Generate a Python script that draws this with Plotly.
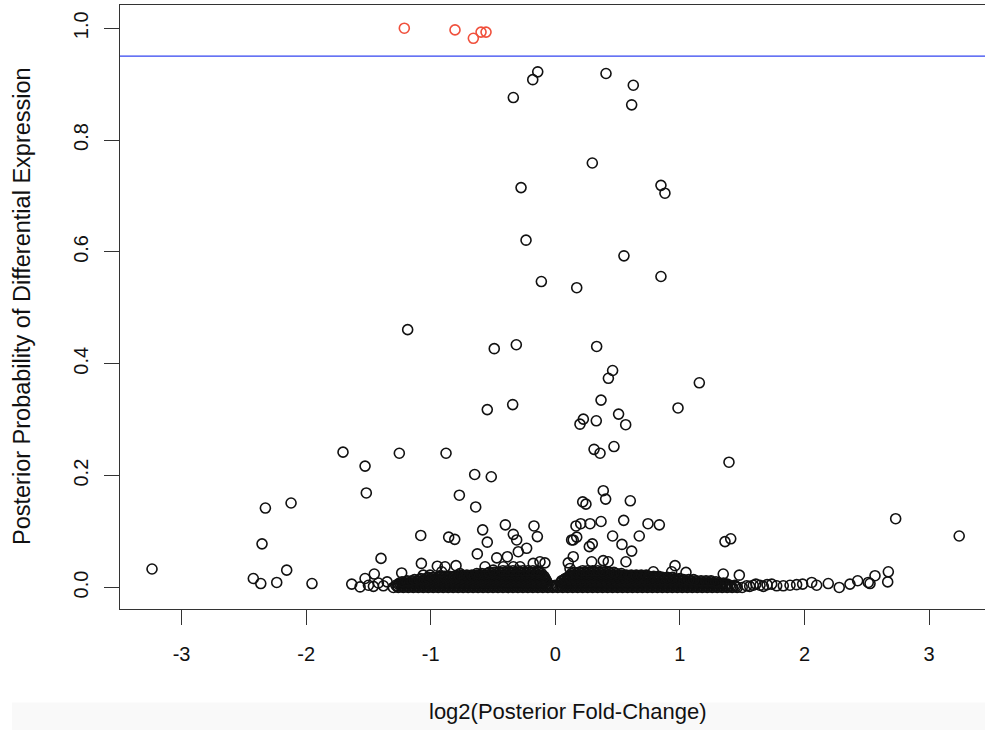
import plotly.graph_objects as go

# ---------------- data ----------------
threshold = 0.95

sig_x = [-1.212, -0.805, -0.658, -0.596, -0.556]
sig_y = [1.000, 0.997, 0.982, 0.993, 0.993]

high_x = [-0.141, -0.181, -0.337, 0.407, 0.626, 0.613, 0.297, -0.275, 0.848, 0.880,
          -0.235, 0.551, 0.848, -0.112, 0.172, -1.185, -0.490, -0.313, 0.332, 0.460,
          0.426, 1.156, 0.367, -0.546, -0.342, 0.985, 0.508, 0.225, 0.198, 0.329,
          0.565, 0.311, 0.359, 0.471, 1.394, -1.704, -1.527, -1.252, -0.877, -1.517,
          -2.327, -2.121, -2.354, -3.237, -0.647, -0.514, -0.770, -0.639, 0.385, 0.404,
          0.602, 0.220, 0.246, 2.732, 3.242]
high_y = [0.922, 0.908, 0.876, 0.919, 0.898, 0.863, 0.759, 0.715, 0.719, 0.705,
          0.621, 0.593, 0.556, 0.547, 0.536, 0.461, 0.427, 0.434, 0.431, 0.388,
          0.374, 0.366, 0.335, 0.318, 0.327, 0.321, 0.310, 0.301, 0.292, 0.298,
          0.291, 0.247, 0.240, 0.252, 0.224, 0.242, 0.217, 0.240, 0.240, 0.169,
          0.142, 0.151, 0.078, 0.033, 0.202, 0.198, 0.165, 0.144, 0.173, 0.158,
          0.155, 0.153, 0.149, 0.123, 0.092]

mid_x = [-1.080, -0.856, -0.807, -0.583, -0.546, -0.401, -0.337, -0.310, -0.171, -0.144,
         -0.297, -0.230, -0.626, -1.075, -0.947, -0.885, -0.797, -0.470, -0.385, -0.083,
         0.104, 0.144, 0.166, 0.204, 0.279, 0.367, 0.549, 0.744, 0.835, 0.460,
         0.674, 0.131, 0.172, 0.273, 0.297, 0.535, 0.613, 0.567, 1.362, 1.408,
         0.961, 0.144, 0.425, 0.385, 0.787, 1.049, 1.348, 0.118, 0.934, 0.292,
         1.477, -1.399, -1.233, -1.453, -1.527, -1.634, -1.567, -2.424, -2.364, -2.236,
         -2.156, -1.953, -0.337, -0.283, -0.177, -0.123, -0.564, -0.498, -0.417, -1.060,
         -1.006, -0.765, -0.912, -1.500, -1.460, -1.420, -1.380, -1.350]
mid_y = [0.093, 0.090, 0.086, 0.103, 0.081, 0.112, 0.095, 0.085, 0.110, 0.091,
         0.064, 0.070, 0.060, 0.043, 0.038, 0.037, 0.039, 0.053, 0.055, 0.044,
         0.044, 0.085, 0.110, 0.114, 0.114, 0.118, 0.120, 0.114, 0.112, 0.092,
         0.092, 0.085, 0.090, 0.073, 0.078, 0.077, 0.065, 0.046, 0.082, 0.087,
         0.039, 0.055, 0.046, 0.048, 0.028, 0.027, 0.024, 0.034, 0.028, 0.046,
         0.022, 0.052, 0.026, 0.024, 0.016, 0.006, 0.001, 0.016, 0.007, 0.009,
         0.031, 0.007, 0.037, 0.037, 0.043, 0.046, 0.037, 0.031, 0.037, 0.022,
         0.022, 0.025, 0.028, 0.004, 0.002, 0.008, 0.003, 0.010]

tail_x = [2.673, 2.668, 2.566, 2.526, 2.512, 2.427, 2.365, 2.279, 2.191, 2.098,
          2.058, 1.985, 1.937, 1.884, 1.830, 1.777, 1.737, 1.643, 1.589, 1.536,
          1.560, 1.610, 1.670, 1.700]
tail_y = [0.028, 0.010, 0.021, 0.007, 0.009, 0.012, 0.006, 0.000, 0.007, 0.004,
          0.009, 0.006, 0.005, 0.004, 0.003, 0.003, 0.006, 0.004, 0.004, 0.003,
          0.002, 0.006, 0.002, 0.005]

# dense band of genes with near-zero probability: one probability level per row
band_levels = [0.000, 0.002, 0.004, 0.006, 0.008, 0.010, 0.012, 0.014,
               0.016, 0.018, 0.020, 0.022, 0.025, 0.027, 0.030]
band_r00 = [-1.30, -1.26, -1.22, -1.18, -1.14, -1.10, -1.06, -1.02, -0.98, -0.94,
            -0.90, -0.86, -0.82, -0.78, -0.74, -0.70, -0.66, -0.62, -0.58, -0.54,
            -0.50, -0.46, -0.42, -0.38, -0.34, -0.30, -0.26, -0.22, -0.18, -0.14,
            -0.10, -0.06, -0.02, 0.02, 0.06, 0.10, 0.14, 0.18, 0.22, 0.26,
            0.30, 0.34, 0.38, 0.42, 0.46, 0.50, 0.54, 0.58, 0.62, 0.66,
            0.70, 0.74, 0.78, 0.82, 0.86, 0.90, 0.94, 0.98, 1.02, 1.06,
            1.10, 1.14, 1.18, 1.22, 1.26, 1.30, 1.34, 1.38, 1.42, 1.46, 1.50]
band_r01 = [-1.27, -1.23, -1.19, -1.15, -1.11, -1.07, -1.03, -0.99, -0.95, -0.91,
            -0.87, -0.83, -0.79, -0.75, -0.71, -0.67, -0.63, -0.59, -0.55, -0.51,
            -0.47, -0.43, -0.39, -0.35, -0.31, -0.27, -0.23, -0.19, -0.15, -0.11,
            -0.07, -0.03, 0.01, 0.05, 0.09, 0.13, 0.17, 0.21, 0.25, 0.29,
            0.33, 0.37, 0.41, 0.45, 0.49, 0.53, 0.57, 0.61, 0.65, 0.69,
            0.73, 0.77, 0.81, 0.85, 0.89, 0.93, 0.97, 1.01, 1.05, 1.09,
            1.13, 1.17, 1.21, 1.25, 1.29, 1.33, 1.37, 1.41, 1.45]
band_r02 = [-1.28, -1.24, -1.20, -1.16, -1.12, -1.08, -1.04, -1.00, -0.96, -0.92,
            -0.88, -0.84, -0.80, -0.76, -0.72, -0.68, -0.64, -0.60, -0.56, -0.52,
            -0.48, -0.44, -0.40, -0.36, -0.32, -0.28, -0.24, -0.20, -0.16, -0.12,
            -0.08, -0.04, 0.00, 0.04, 0.08, 0.12, 0.16, 0.20, 0.24, 0.28,
            0.32, 0.36, 0.40, 0.44, 0.48, 0.52, 0.56, 0.60, 0.64, 0.68,
            0.72, 0.76, 0.80, 0.84, 0.88, 0.92, 0.96, 1.00, 1.04, 1.08,
            1.12, 1.16, 1.20, 1.24, 1.28, 1.32, 1.36, 1.40, 1.44]
band_r03 = [-1.26, -1.22, -1.18, -1.14, -1.10, -1.06, -1.02, -0.98, -0.94, -0.90,
            -0.86, -0.82, -0.78, -0.74, -0.70, -0.66, -0.62, -0.58, -0.54, -0.50,
            -0.46, -0.42, -0.38, -0.34, -0.30, -0.26, -0.22, -0.18, -0.14, -0.10,
            -0.06, 0.06, 0.10, 0.14, 0.18, 0.22, 0.26, 0.30, 0.34, 0.38,
            0.42, 0.46, 0.50, 0.54, 0.58, 0.62, 0.66, 0.70, 0.74, 0.78,
            0.82, 0.86, 0.90, 0.94, 0.98, 1.02, 1.06, 1.10, 1.14, 1.18,
            1.22, 1.26, 1.30, 1.34, 1.38]
band_r04 = [-1.25, -1.21, -1.17, -1.13, -1.09, -1.05, -1.01, -0.97, -0.93, -0.89,
            -0.85, -0.81, -0.77, -0.73, -0.69, -0.65, -0.61, -0.57, -0.53, -0.49,
            -0.45, -0.41, -0.37, -0.33, -0.29, -0.25, -0.21, -0.17, -0.13, -0.09,
            0.07, 0.11, 0.15, 0.19, 0.23, 0.27, 0.31, 0.35, 0.39, 0.43,
            0.47, 0.51, 0.55, 0.59, 0.63, 0.67, 0.71, 0.75, 0.79, 0.83,
            0.87, 0.91, 0.95, 0.99, 1.03, 1.07, 1.11, 1.15, 1.19, 1.23,
            1.27, 1.31, 1.35]
band_r05 = [-1.23, -1.19, -1.15, -1.11, -1.07, -1.03, -0.99, -0.95, -0.91, -0.87,
            -0.83, -0.79, -0.75, -0.71, -0.67, -0.63, -0.59, -0.55, -0.51, -0.47,
            -0.43, -0.39, -0.35, -0.31, -0.27, -0.23, -0.19, -0.15, -0.11, -0.07,
            0.05, 0.09, 0.13, 0.17, 0.21, 0.25, 0.29, 0.33, 0.37, 0.41,
            0.45, 0.49, 0.53, 0.57, 0.61, 0.65, 0.69, 0.73, 0.77, 0.81,
            0.85, 0.89, 0.93, 0.97, 1.01, 1.05, 1.09, 1.13, 1.17, 1.21,
            1.25, 1.29]
band_r06 = [-1.19, -1.15, -1.11, -1.07, -1.03, -0.99, -0.95, -0.91, -0.87, -0.83,
            -0.79, -0.75, -0.71, -0.67, -0.63, -0.59, -0.55, -0.51, -0.47, -0.43,
            -0.39, -0.35, -0.31, -0.27, -0.23, -0.19, -0.15, -0.11, -0.07,
            0.05, 0.09, 0.13, 0.17, 0.21, 0.25, 0.29, 0.33, 0.37, 0.41,
            0.45, 0.49, 0.53, 0.57, 0.61, 0.65, 0.69, 0.73, 0.77, 0.81,
            0.85, 0.89, 0.93, 0.97, 1.01, 1.05, 1.09, 1.13, 1.17, 1.21, 1.25]
band_r07 = [-1.13, -1.09, -1.05, -1.01, -0.97, -0.93, -0.89, -0.85, -0.81, -0.77,
            -0.73, -0.69, -0.65, -0.61, -0.57, -0.53, -0.49, -0.45, -0.41, -0.37,
            -0.33, -0.29, -0.25, -0.21, -0.17, -0.13, -0.09,
            0.07, 0.11, 0.15, 0.19, 0.23, 0.27, 0.31, 0.35, 0.39, 0.43,
            0.47, 0.51, 0.55, 0.59, 0.63, 0.67, 0.71, 0.75, 0.79, 0.83,
            0.87, 0.91, 0.95, 0.99, 1.03, 1.07, 1.11]
band_r08 = [-1.08, -1.04, -1.00, -0.96, -0.92, -0.88, -0.84, -0.80, -0.76, -0.72,
            -0.68, -0.64, -0.60, -0.56, -0.52, -0.48, -0.44, -0.40, -0.36, -0.32,
            -0.28, -0.24, -0.20, -0.16, -0.12, -0.08,
            0.08, 0.12, 0.16, 0.20, 0.24, 0.28, 0.32, 0.36, 0.40, 0.44,
            0.48, 0.52, 0.56, 0.60, 0.64, 0.68, 0.72, 0.76, 0.80, 0.84,
            0.88, 0.92, 0.96, 1.00]
band_r09 = [-1.02, -0.98, -0.94, -0.90, -0.86, -0.82, -0.78, -0.74, -0.70, -0.66,
            -0.62, -0.58, -0.54, -0.50, -0.46, -0.42, -0.38, -0.34, -0.30, -0.26,
            -0.22, -0.18, -0.14, -0.10,
            0.10, 0.14, 0.18, 0.22, 0.26, 0.30, 0.34, 0.38, 0.42, 0.46,
            0.50, 0.54, 0.58, 0.62, 0.66, 0.70, 0.74, 0.78, 0.82, 0.86,
            0.90, 0.94]
band_r10 = [-0.93, -0.89, -0.85, -0.81, -0.77, -0.73, -0.69, -0.65, -0.61, -0.57,
            -0.53, -0.49, -0.45, -0.41, -0.37, -0.33, -0.29, -0.25, -0.21, -0.17,
            -0.13, -0.09,
            0.11, 0.15, 0.19, 0.23, 0.27, 0.31, 0.35, 0.39, 0.43, 0.47,
            0.51, 0.55, 0.59, 0.63, 0.67, 0.71, 0.75, 0.79, 0.83]
band_r11 = [-0.75, -0.71, -0.67, -0.63, -0.59, -0.55, -0.51, -0.47, -0.43, -0.39,
            -0.35, -0.31, -0.27, -0.23, -0.19, -0.15, -0.11,
            0.13, 0.17, 0.21, 0.25, 0.29, 0.33, 0.37, 0.41, 0.45, 0.49,
            0.53, 0.57, 0.61, 0.65, 0.69, 0.73]
band_r12 = [-0.63, -0.59, -0.55, -0.51, -0.47, -0.43, -0.39, -0.35, -0.31, -0.27,
            -0.23, -0.19, -0.15, -0.11,
            0.13, 0.17, 0.21, 0.25, 0.29, 0.33, 0.37, 0.41, 0.45, 0.49, 0.53]
band_r13 = [-0.53, -0.49, -0.45, -0.41, -0.37, -0.33, -0.29, -0.25, -0.21, -0.17,
            -0.13, 0.15, 0.19, 0.23, 0.27, 0.31, 0.35, 0.39, 0.43, 0.47]
band_r14 = [-0.42, -0.38, -0.34, -0.30, -0.26, -0.22, -0.18, -0.14,
            0.22, 0.26, 0.30, 0.34, 0.38]
band_rows_x = [band_r00, band_r01, band_r02, band_r03, band_r04, band_r05,
               band_r06, band_r07, band_r08, band_r09, band_r10, band_r11,
               band_r12, band_r13, band_r14]

x_ticks = [-3, -2, -1, 0, 1, 2, 3]
x_tick_text = ["-3", "-2", "-1", "0", "1", "2", "3"]
y_ticks = [0.0, 0.2, 0.4, 0.6, 0.8, 1.0]
y_tick_text = ["0.0", "0.2", "0.4", "0.6", "0.8", "1.0"]

x_label = "log2(Posterior Fold-Change)"
y_label = "Posterior Probability of Differential Expression"

# ---------------- figure ----------------
band_x, band_y = [], []
for lvl, row in zip(band_levels, band_rows_x):
    band_x += row
    band_y += [lvl] * len(row)

black_x = band_x + tail_x + mid_x + high_x
black_y = band_y + tail_y + mid_y + high_y

FONT = "Liberation Sans, Arial, Helvetica, sans-serif"
MSIZE = 10
MLW = 1.6

fig = go.Figure()
fig.add_trace(go.Scatter(
    x=black_x, y=black_y, mode="markers", hoverinfo="x+y",
    marker=dict(symbol="circle-open", size=MSIZE, color="#111111",
                line=dict(width=MLW, color="#111111")),
    showlegend=False))
fig.add_trace(go.Scatter(
    x=sig_x, y=sig_y, mode="markers",
    marker=dict(symbol="circle-open", size=MSIZE, color="#f0503c",
                line=dict(width=MLW, color="#f0503c")),
    showlegend=False))

fig.add_hline(y=threshold, line=dict(color="#3344f0", width=1.2))

# faint grey strip at bottom of the screenshot
fig.add_shape(type="rect", xref="paper", yref="paper",
              x0=-0.125, x1=1.0, y0=-0.155, y1=-0.21,
              fillcolor="#f9f9f9", line=dict(width=0), layer="below")

fig.add_annotation(text=x_label, xref="paper", yref="paper",
                   x=0.518, y=-0.1705, xanchor="center", yanchor="middle",
                   showarrow=False, font=dict(family=FONT, size=22, color="#111"))
fig.add_annotation(text=y_label, xref="paper", yref="paper",
                   x=-0.1133, y=0.5017, xanchor="center", yanchor="middle",
                   textangle=-90, showarrow=False,
                   font=dict(family=FONT, size=23.5, color="#111"))

fig.update_layout(
    width=985, height=730,
    margin=dict(l=120, r=0, t=5, b=121),
    paper_bgcolor="white", plot_bgcolor="white",
    font=dict(family=FONT, size=20, color="#111"),
    xaxis=dict(range=[-3.494, 3.449], tickvals=x_ticks, ticktext=x_tick_text,
               ticks="outside", ticklen=15, tickwidth=1, tickcolor="#333",
               showgrid=False, zeroline=False, showline=True, linecolor="#333",
               linewidth=1.2, mirror=True, tickfont=dict(size=20),
               ticklabelstandoff=12),
    yaxis=dict(range=[-0.0385, 1.0415], tickvals=y_ticks, ticktext=y_tick_text,
               ticks="outside", ticklen=15, tickwidth=1, tickcolor="#333",
               showgrid=False, zeroline=False, showline=True, linecolor="#333",
               linewidth=1.2, tickangle=-90, tickfont=dict(size=20),
               ticklabelstandoff=8),
)

fig.write_html("out.html")
